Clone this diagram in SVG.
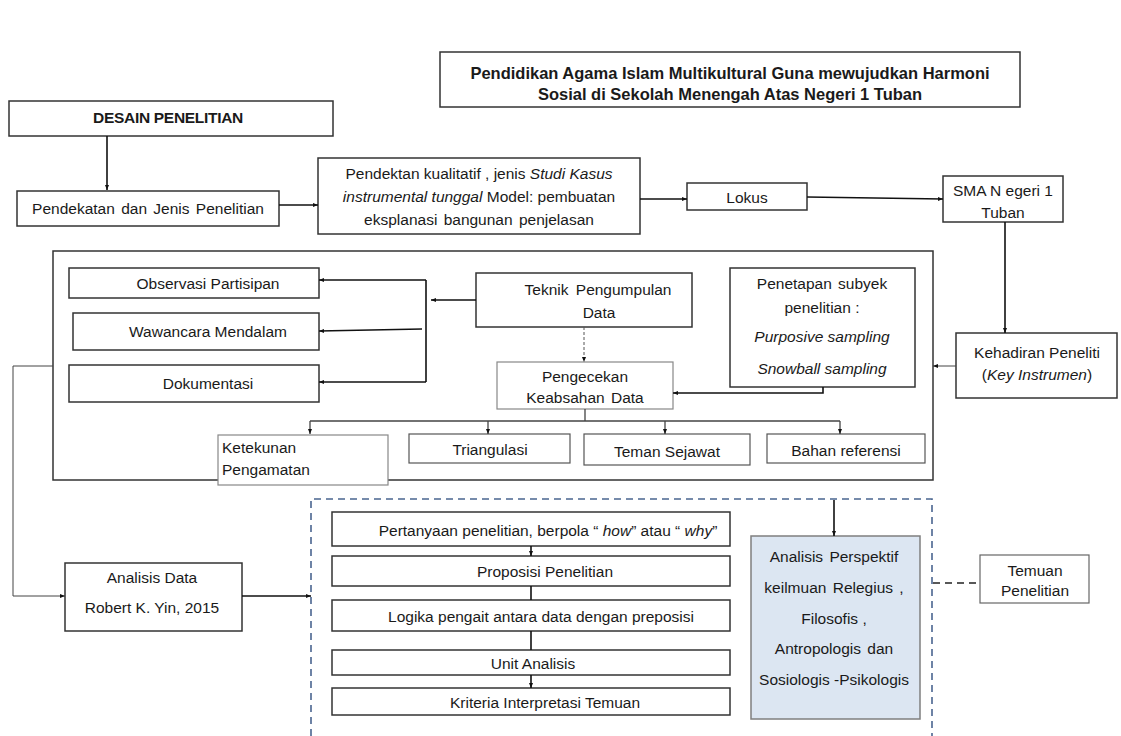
<svg xmlns="http://www.w3.org/2000/svg" width="1121" height="736" viewBox="0 0 1121 736">
<style>
text{font-family:"Liberation Sans",Arial,sans-serif;fill:#1a1a1a;font-size:15.5px;text-anchor:middle;dominant-baseline:central}
.b{font-weight:bold}
.s{font-size:15.5px}
.i{font-style:italic}
.box{fill:#fff;stroke:#333;stroke-width:1.5}
.lbox{fill:#fff;stroke:#888;stroke-width:1.2}
.c{fill:none;stroke:#111;stroke-width:1.6}
.t{fill:none;stroke:#444;stroke-width:1}
</style>
<defs>
<marker id="ah" viewBox="0 0 10 10" refX="10" refY="5" markerWidth="5" markerHeight="5" orient="auto-start-reverse" markerUnits="userSpaceOnUse">
<path d="M0,1 L10,5 L0,9 z" fill="#111"/>
</marker>
</defs>
<rect width="1121" height="736" fill="#fff"/>

<g id="container">
<rect x="53" y="251" width="880" height="229" class="box"/>
<path d="M311,736 V499 H932 V736" fill="none" stroke="#4a6590" stroke-width="1.6" stroke-dasharray="7,5"/>
</g>

<g id="title">
<rect x="440" y="52" width="580" height="55" class="box"/>
<text x="730" y="73" class="b" style="font-size:16.5px">Pendidikan Agama Islam Multikultural Guna mewujudkan Harmoni</text>
<text x="730" y="94" class="b" style="font-size:16.5px">Sosial di Sekolah Menengah Atas Negeri 1 Tuban</text>
</g>

<g id="desain">
<rect x="9" y="101" width="324" height="35" class="box"/>
<text x="168" y="117" class="b" style="font-size:15.5px;letter-spacing:-0.3px">DESAIN PENELITIAN</text>
</g>

<g id="pendekatan">
<rect x="17" y="191" width="262" height="35" class="box"/>
<text x="148" y="208" style="word-spacing:2px">Pendekatan dan Jenis Penelitian</text>
</g>

<g id="pendektan-kualitatif">
<rect x="318" y="158" width="322" height="76" class="box"/>
<text x="479" y="173">Pendektan  kualitatif , jenis <tspan class="i">Studi Kasus</tspan></text>
<text x="479" y="196"><tspan class="i">instrumental tunggal</tspan> Model:  pembuatan</text>
<text x="479" y="219" style="word-spacing:2px">eksplanasi bangunan penjelasan</text>
</g>

<g id="lokus">
<rect x="687" y="183" width="120" height="27" class="box"/>
<text x="747" y="197">Lokus</text>
</g>

<g id="sman">
<rect x="943" y="176" width="120" height="46" class="box"/>
<text x="1003" y="190">SMA N egeri  1</text>
<text x="1003" y="212">Tuban</text>
</g>

<g id="kehadiran">
<rect x="956" y="333" width="161" height="65" class="box"/>
<text x="1037" y="352">Kehadiran  Peneliti</text>
<text x="1037" y="374">(<tspan class="i">Key Instrumen</tspan>)</text>
</g>

<g id="observasi">
<rect x="69" y="268" width="250" height="30" class="box"/>
<text x="208" y="283">Observasi Partisipan</text>
</g>

<g id="wawancara">
<rect x="73" y="313" width="246" height="37" class="box"/>
<text x="208" y="331">Wawancara Mendalam</text>
</g>

<g id="dokumentasi">
<rect x="69" y="365" width="250" height="37" class="box"/>
<text x="208" y="383">Dokumentasi</text>
</g>

<g id="teknik">
<rect x="476" y="273" width="216" height="54" class="box"/>
<text x="598" y="289" style="word-spacing:3px">Teknik Pengumpulan</text>
<text x="599" y="312">Data</text>
</g>

<g id="penetapan">
<rect x="730" y="268" width="185" height="119" class="box"/>
<text x="822" y="283" style="word-spacing:2px">Penetapan subyek</text>
<text x="822" y="307">penelitian :</text>
<text x="822" y="336" class="i">Purposive sampling</text>
<text x="822" y="368" class="i">Snowball sampling</text>
</g>

<g id="pengecekan">
<rect x="497" y="362" width="176" height="47" class="lbox"/>
<text x="585" y="376">Pengecekan</text>
<text x="585" y="397" style="word-spacing:2px">Keabsahan Data</text>
</g>

<g id="ketekunan">
<rect x="218" y="435" width="170" height="50" class="lbox"/>
<text x="222" y="447" style="text-anchor:start">Ketekunan</text>
<text x="222" y="469" style="text-anchor:start">Pengamatan</text>
</g>

<g id="triangulasi">
<rect x="409" y="434" width="161" height="29" class="box" style="stroke:#555;stroke-width:1.2"/>
<text x="490" y="449">Triangulasi</text>
</g>

<g id="teman">
<rect x="584" y="434" width="166" height="31" class="box" style="stroke:#555;stroke-width:1.2"/>
<text x="667" y="451">Teman Sejawat</text>
</g>

<g id="bahan">
<rect x="767" y="434" width="158" height="29" class="box" style="stroke:#555;stroke-width:1.2"/>
<text x="846" y="450">Bahan referensi</text>
</g>

<g id="analisis-data">
<rect x="65" y="563" width="177" height="68" class="box"/>
<text x="152" y="577">Analisis Data</text>
<text x="152" y="607">Robert K. Yin, 2015</text>
</g>

<g id="pertanyaan">
<rect x="332" y="512" width="398" height="34" class="box"/>
<text x="548" y="530" class="s">Pertanyaan penelitian, berpola “  <tspan class="i">how</tspan>” atau “ <tspan class="i">why</tspan>”</text>
</g>

<g id="proposisi">
<rect x="332" y="556" width="398" height="30" class="box"/>
<text x="545" y="571" class="s">Proposisi Penelitian</text>
</g>

<g id="logika">
<rect x="332" y="600" width="398" height="31" class="box"/>
<text x="541" y="616" class="s">Logika pengait antara data dengan preposisi</text>
</g>

<g id="unit">
<rect x="332" y="650" width="398" height="25" class="box"/>
<text x="533" y="663" class="s">Unit Analisis</text>
</g>

<g id="kriteria">
<rect x="332" y="688" width="398" height="27" class="box"/>
<text x="545" y="702" class="s">Kriteria Interpretasi Temuan</text>
</g>

<g id="perspektif">
<rect x="751" y="536" width="169" height="183" fill="#dce6f2" stroke="#7f7f7f" stroke-width="1.5"/>
<text x="834" y="556" class="s" style="word-spacing:2px">Analisis Perspektif</text>
<text x="834" y="587" class="s" style="word-spacing:2px">keilmuan Relegius ,</text>
<text x="834" y="618" class="s">Filosofis ,</text>
<text x="834" y="648" class="s" style="word-spacing:2px">Antropologis dan</text>
<text x="834" y="679" class="s">Sosiologis -Psikologis</text>
</g>

<g id="temuan">
<rect x="980" y="555" width="109" height="48" fill="#fff" stroke="#666" stroke-width="1.2"/>
<text x="1035" y="570" class="s">Temuan</text>
<text x="1035" y="590" class="s">Penelitian</text>
</g>

<g id="connectors">
<line x1="107" y1="136" x2="107" y2="190" class="c" marker-end="url(#ah)"/>
<line x1="279" y1="205" x2="318" y2="205" class="c" marker-end="url(#ah)"/>
<line x1="640" y1="199" x2="687" y2="199" class="c" marker-end="url(#ah)"/>
<line x1="807" y1="197" x2="943" y2="199" class="c" marker-end="url(#ah)"/>
<line x1="1005" y1="222" x2="1005" y2="333" class="c" marker-end="url(#ah)"/>
<line x1="956" y1="366" x2="933" y2="366" class="t" marker-end="url(#ah)"/>
<line x1="476" y1="300" x2="431" y2="300" class="c" marker-end="url(#ah)"/>
<line x1="426" y1="280" x2="426" y2="382" class="c"/>
<line x1="426" y1="280" x2="319" y2="280" class="c" marker-end="url(#ah)"/>
<line x1="422" y1="329" x2="319" y2="331" class="c" marker-end="url(#ah)"/>
<line x1="426" y1="382" x2="319" y2="382" class="c" marker-end="url(#ah)"/>
<line x1="584" y1="327" x2="584" y2="362" stroke="#555" stroke-width="1" stroke-dasharray="3,2" marker-end="url(#ah)"/>
<path d="M823,387 V393 H673" class="c" marker-end="url(#ah)"/>
<path d="M585,409 V421 M310,421 H840" class="t" style="stroke-width:1.3"/>
<line x1="310" y1="421" x2="310" y2="434" class="t" style="stroke-width:1.3" marker-end="url(#ah)"/>
<line x1="488" y1="421" x2="488" y2="434" class="t" style="stroke-width:1.3" marker-end="url(#ah)"/>
<line x1="665" y1="421" x2="665" y2="434" class="t" style="stroke-width:1.3" marker-end="url(#ah)"/>
<line x1="840" y1="421" x2="840" y2="434" class="t" style="stroke-width:1.3" marker-end="url(#ah)"/>
<path d="M53,366 H13 V596 H65" class="t" marker-end="url(#ah)"/>
<line x1="242" y1="596" x2="311" y2="596" class="c" marker-end="url(#ah)"/>
<line x1="834" y1="500" x2="834" y2="536" class="c" marker-end="url(#ah)"/>
<line x1="531" y1="546" x2="531" y2="556" class="c" marker-end="url(#ah)"/>
<line x1="531" y1="586" x2="531" y2="600" class="c"/>
<line x1="531" y1="631" x2="531" y2="650" class="c"/>
<line x1="531" y1="675" x2="531" y2="688" class="c" marker-end="url(#ah)"/>
<line x1="933" y1="583" x2="978" y2="583" stroke="#222" stroke-width="1.6" stroke-dasharray="7,5"/>
</g>
</svg>
